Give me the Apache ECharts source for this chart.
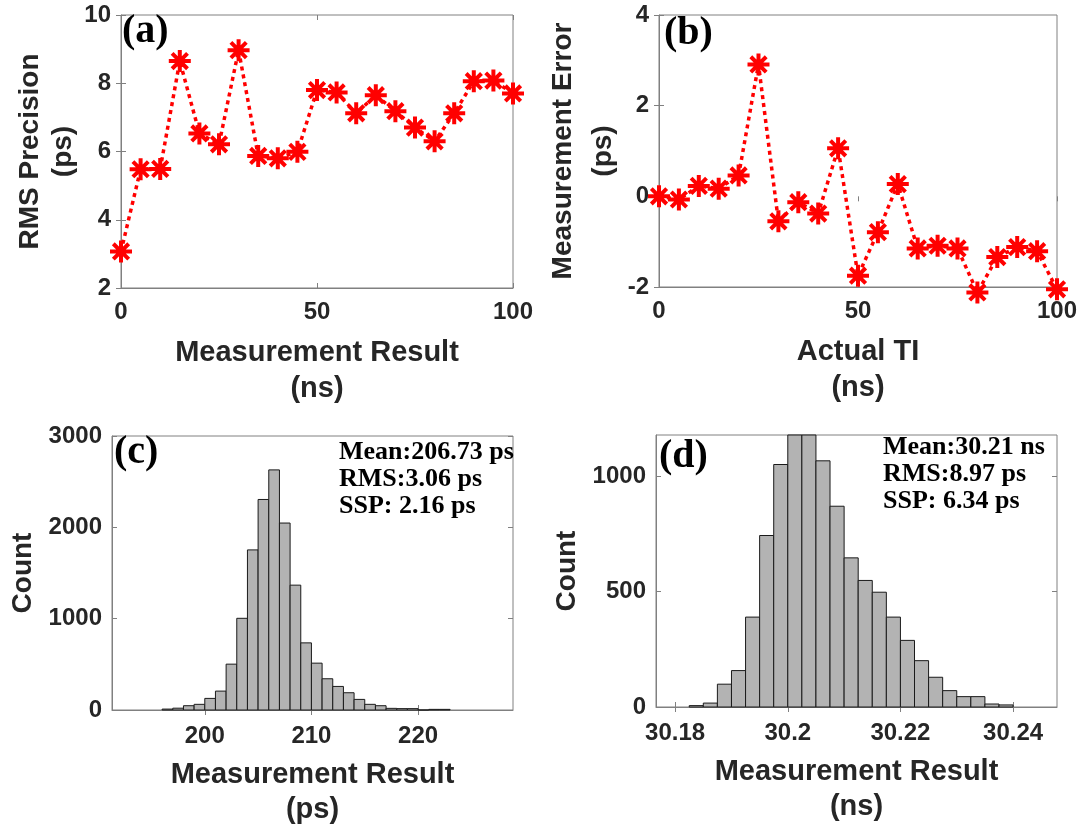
<!DOCTYPE html>
<html>
<head>
<meta charset="utf-8">
<title>TDC measurement results</title>
<script src="https://cdn.jsdelivr.net/npm/echarts@6.0.0/dist/echarts.min.js"></script>
<style>
  html, body { margin: 0; padding: 0; background: #fff; }
  #chart { width: 1086px; height: 834px; }
</style>
</head>
<body>
<div id="chart"></div>
<script>
// (a)/(b) x values: measurement result / actual TI, ns
const tiValues = [0, 5, 10, 15, 20, 25, 30, 35, 40, 45, 50, 55, 60, 65, 70, 75, 80, 85, 90, 95, 100]
// (a) RMS precision, ps
const rmsPrecision = [3.07, 5.48, 5.49, 8.65, 6.53, 6.21, 8.97, 5.87, 5.80, 5.99, 7.80, 7.73, 7.12, 7.65, 7.18, 6.70, 6.30, 7.12, 8.06, 8.08, 7.70]
// (b) measurement error, ps
const measError = [0.0, -0.07, 0.23, 0.17, 0.46, 2.91, -0.55, -0.13, -0.38, 1.06, -1.75, -0.79, 0.27, -1.15, -1.09, -1.15, -2.12, -1.34, -1.12, -1.21, -2.05]

// (c) histogram of a 206.73 ps interval: bin left edges (ps) and counts
const histCEdges = [196, 197, 198, 199, 200, 201, 202, 203, 204, 205, 206, 207, 208, 209, 210, 211, 212, 213, 214, 215, 216, 217, 218, 219, 220, 221, 222]
const histCWidth = 1
const histCCounts = [10, 20, 47, 62, 127, 207, 502, 1004, 1753, 2305, 2629, 2047, 1367, 735, 513, 342, 258, 189, 116, 62, 47, 18, 15, 15, 0, 7, 7]

// (d) histogram of a 30.21 ns interval: bin left edges (ns) and counts
const histDEdges = [30.1825, 30.185, 30.1875, 30.19, 30.1925, 30.195, 30.1975, 30.2, 30.2025, 30.205, 30.2075, 30.21, 30.2125, 30.215, 30.2175, 30.22, 30.2225, 30.225, 30.2275, 30.23, 30.2325, 30.235, 30.2375]
const histDWidth = 0.0025
const histDCounts = [6, 17, 99, 158, 390, 744, 1052, 1300, 1240, 1068, 871, 647, 549, 498, 390, 289, 201, 129, 71, 45, 45, 13, 9]

// tick labels
const ticksA = { x: [0, 50, 100], y: [2, 4, 6, 8, 10] }
const ticksB = { x: [0, 50, 100], y: [-2, 0, 2, 4] }
const ticksC = { x: [200, 210, 220], y: [0, 1000, 2000, 3000] }
const ticksD = { x: [30.18, 30.2, 30.22, 30.24], y: [0, 500, 1000] }

const statsC = ['Mean:206.73 ps', 'RMS:3.06 ps', 'SSP: 2.16 ps']
const statsD = ['Mean:30.21 ns', 'RMS:8.97 ps', 'SSP: 6.34 ps']

const chart = echarts.init(document.getElementById('chart'))

const SANS = 'Liberation Sans, Arial, sans-serif'
const SERIF = 'Liberation Serif, Times New Roman, serif'
const frameColor = '#808080'
const textColor = '#262626'

// asterisk marker like matlab '*'
const asterisk = 'path://M10,0L10,20M0,10L20,10M3,3L17,17M3,17L17,3'

const labelStyle = { fontFamily: SANS, fontWeight: 'bold', fontSize: 24, color: textColor, formatter: v => String(+v.toFixed(4)) }
const nameStyle = { fontFamily: SANS, fontWeight: 'bold', fontSize: 28, color: textColor }

const grids = [
  { left: 121, top: 15, width: 392, height: 273 },
  { left: 659, top: 15, width: 398, height: 272 },
  { left: 112, top: 436, width: 401, height: 274 },
  { left: 656, top: 435, width: 401, height: 272 }
].map(g => Object.assign(g, { show: true, borderColor: frameColor, borderWidth: 1, backgroundColor: '#fff' }))

const xAxis = []
const yAxis = []

// main axis + mirrored axis with only inner ticks (box style)
const addAxes = (gi, xc, yc) => {
  xAxis.push({
    type: 'value', gridIndex: gi, min: xc.min, max: xc.max,
    name: xc.name, nameLocation: 'middle', nameGap: xc.gap,
    nameTextStyle: Object.assign({}, nameStyle, { fontSize: 29, lineHeight: xc.lh }),
    axisLine: { show: true, onZero: false, lineStyle: { color: frameColor, width: 1 } },
    axisTick: { show: true, inside: true, length: 5, lineStyle: { color: frameColor }, customValues: xc.ticks },
    axisLabel: Object.assign({ margin: xc.margin, customValues: xc.ticks }, labelStyle),
    splitLine: { show: false }
  })
  xAxis.push({
    type: 'value', gridIndex: gi, position: 'top', min: xc.min, max: xc.max,
    axisLine: { show: false },
    axisTick: { show: true, inside: true, length: 5, lineStyle: { color: frameColor }, customValues: xc.ticks },
    axisLabel: { show: false },
    splitLine: { show: false }
  })
  yAxis.push({
    type: 'value', gridIndex: gi, min: yc.min, max: yc.max,
    name: yc.name, nameLocation: 'middle', nameGap: yc.gap,
    nameTextStyle: Object.assign({}, nameStyle, { lineHeight: yc.lh }),
    axisLine: { show: true, onZero: false, lineStyle: { color: frameColor, width: 1 } },
    axisTick: { show: true, inside: true, length: 5, lineStyle: { color: frameColor }, customValues: yc.ticks },
    axisLabel: Object.assign({ margin: 10, customValues: yc.ticks }, labelStyle),
    splitLine: { show: false }
  })
  yAxis.push({
    type: 'value', gridIndex: gi, position: 'right', min: yc.min, max: yc.max,
    axisLine: { show: false },
    axisTick: { show: true, inside: true, length: 5, lineStyle: { color: frameColor }, customValues: yc.ticks },
    axisLabel: { show: false },
    splitLine: { show: false }
  })
}

addAxes(0,
  { min: 0, max: 100, ticks: ticksA.x, name: 'Measurement Result\n(ns)', gap: 47, lh: 36, margin: 12 },
  { min: 2, max: 10, ticks: ticksA.y, name: 'RMS Precision\n(ps)', gap: 41, lh: 33 })
addAxes(1,
  { min: 0, max: 100, ticks: ticksB.x, name: 'Actual TI\n(ns)', gap: 47, lh: 36, margin: 12 },
  { min: -2, max: 4, ticks: ticksB.y, name: 'Measurement Error\n(ps)', gap: 30, lh: 40 })
addAxes(2,
  { min: 191.3, max: 228.9, ticks: ticksC.x, name: 'Measurement Result\n(ps)', gap: 47, lh: 35, margin: 14 },
  { min: 0, max: 3000, ticks: ticksC.y, name: 'Count', gap: 72, lh: 34 })
addAxes(3,
  { min: 30.1766, max: 30.2478, ticks: ticksD.x, name: 'Measurement Result\n(ns)', gap: 47, lh: 35, margin: 14 },
  { min: 0, max: 1180, ticks: ticksD.y, name: 'Count', gap: 72, lh: 34 })

const lineSeries = (ax, values) => ({
  type: 'line',
  xAxisIndex: ax, yAxisIndex: ax,
  data: tiValues.map((t, i) => [t, values[i]]),
  symbol: asterisk,
  symbolSize: 22,
  clip: false,
  itemStyle: { color: '#ff0000', borderColor: '#ff0000', borderWidth: 4 },
  lineStyle: { color: '#ff0000', width: 3.5, type: [4, 4] },
  emphasis: { disabled: true },
  z: 3
})

const histRender = (params, api) => {
  const p0 = api.coord([api.value(0), api.value(2)])
  const p1 = api.coord([api.value(1), 0])
  const cs = params.coordSys
  const rect = echarts.graphic.clipRectByRect(
    { x: p0[0], y: p0[1], width: p1[0] - p0[0], height: p1[1] - p0[1] },
    { x: cs.x, y: cs.y, width: cs.width, height: cs.height }
  )
  if (!rect) return null
  return {
    type: 'rect',
    shape: rect,
    style: { fill: '#b3b3b3', stroke: '#1a1a1a', lineWidth: 1 }
  }
}

const histSeries = (ax, edges, width, counts) => ({
  type: 'custom',
  xAxisIndex: ax, yAxisIndex: ax,
  renderItem: histRender,
  data: edges.map((e, i) => [e, e + width, counts[i]]),
  encode: { x: [0, 1], y: 2 },
  silent: true
})

const panelLabel = (text, left, top) => ({
  type: 'text', left: left, top: top, z: 10,
  style: { text: text, fontFamily: SERIF, fontWeight: 'bold', fontSize: 40, fill: '#000' }
})

const statsText = (lines, left, top) => ({
  type: 'text', left: left, top: top, z: 10,
  style: { text: lines.join('\n'), fontFamily: SERIF, fontWeight: 'bold', fontSize: 26, lineHeight: 27, fill: '#000' }
})

const option = {
  backgroundColor: '#fff',
  animation: false,
  grid: grids,
  xAxis: xAxis,
  yAxis: yAxis,
  series: [
    lineSeries(0, rmsPrecision),
    lineSeries(2, measError),
    histSeries(4, histCEdges, histCWidth, histCCounts),
    histSeries(6, histDEdges, histDWidth, histDCounts)
  ],
  graphic: [
    panelLabel('(a)', 122, 12),
    panelLabel('(b)', 664, 14),
    panelLabel('(c)', 114, 433),
    panelLabel('(d)', 659, 437),
    statsText(statsC, 339, 439),
    statsText(statsD, 883, 434)
  ]
}

chart.setOption(option)
</script>
</body>
</html>
